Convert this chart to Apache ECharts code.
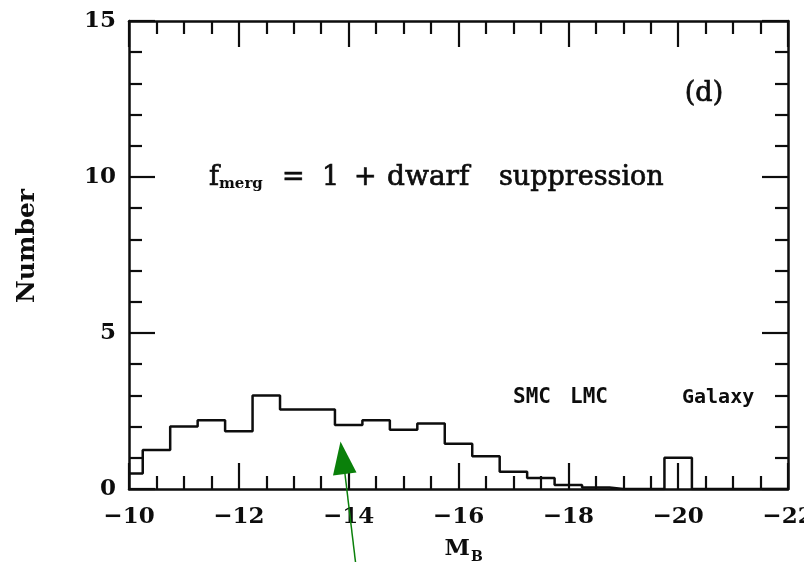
<!DOCTYPE html>
<html>
<head>
<meta charset="utf-8">
<script src="https://cdn.jsdelivr.net/npm/echarts@6/dist/echarts.min.js"></script>
<style>
  html, body { margin: 0; padding: 0; background: #fff; }
  #chart { width: 804px; height: 562px; }
</style>
</head>
<body>
<div id="chart"></div>
<script>
// Luminosity function histogram: bins of 0.5 mag, centred on these M_B values
const magnitudes = [-10, -10.5, -11, -11.5, -12, -12.5, -13, -13.5, -14, -14.5,
                    -15, -15.5, -16, -16.5, -17, -17.5, -18, -18.5, -19, -19.5,
                    -20, -20.5, -21, -21.5, -22];
const counts = [0.5, 1.25, 2.0, 2.2, 1.85, 3.0, 2.55, 2.55, 2.05, 2.2,
                1.9, 2.1, 1.45, 1.05, 0.55, 0.35, 0.13, 0.05, 0, 0,
                1.0, 0, 0, 0, 0];

// Axis ranges and tick spacing
const xRange = [-22, -10];
const xMajorStep = 2;
const yRange = [0, 15];
const yMajorStep = 5;

const ink = '#0d0d0d';
const serif = 'DejaVu Serif';

const chart = echarts.init(document.getElementById('chart'), null, { renderer: 'canvas' });

const minusSign = v => (v < 0 ? '\u2212' + Math.abs(v) : String(v));

function xAxisCfg(pos, showLabels) {
  return {
    type: 'value', position: pos, inverse: true,
    min: xRange[0], max: xRange[1], interval: xMajorStep,
    axisLine: { show: true, onZero: false, lineStyle: { color: ink, width: 2.5 } },
    axisTick: { show: true, inside: true, length: 26, lineStyle: { color: ink, width: 2.2 } },
    minorTick: { show: true, splitNumber: 4, length: 13, lineStyle: { color: ink, width: 2.2 } },
    splitLine: { show: false }, minorSplitLine: { show: false },
    axisLabel: {
      show: showLabels, margin: 17, color: ink,
      fontFamily: serif, fontWeight: 'bold', fontSize: 23,
      hideOverlap: false,
      formatter: minusSign
    }
  };
}

function yAxisCfg(pos, showLabels) {
  return {
    type: 'value', position: pos,
    min: yRange[0], max: yRange[1], interval: yMajorStep,
    axisLine: { show: true, onZero: false, lineStyle: { color: ink, width: 2.5 } },
    axisTick: { show: true, inside: true, length: 26, lineStyle: { color: ink, width: 2.2 } },
    minorTick: { show: true, splitNumber: 5, length: 13, lineStyle: { color: ink, width: 2.2 } },
    splitLine: { show: false }, minorSplitLine: { show: false },
    axisLabel: {
      show: showLabels, margin: 13, color: ink,
      fontFamily: serif, fontWeight: 'bold', fontSize: 23
    }
  };
}

// Text helper; a thin outline in the same ink gives the heavier print look
const txt = (x, y, text, font, align, vAlign, extra, weightStroke) => Object.assign({
  type: 'text', x: x, y: y,
  style: {
    text: text, fill: ink, font: font,
    align: align || 'left', verticalAlign: vAlign || 'middle',
    stroke: weightStroke ? ink : null, lineWidth: weightStroke || 0
  }
}, extra || {});

chart.setOption({
  animation: false,
  backgroundColor: '#fff',
  grid: { left: 129, right: 16, top: 21, bottom: 73, containLabel: false, outerBoundsMode: 'none' },
  xAxis: [xAxisCfg('bottom', true), xAxisCfg('top', false)],
  yAxis: [yAxisCfg('left', true), yAxisCfg('right', false)],
  series: [{
    type: 'line',
    step: 'middle',
    xAxisIndex: 0, yAxisIndex: 0,
    data: magnitudes.map((m, i) => [m, counts[i]]),
    symbol: 'none',
    lineStyle: { color: ink, width: 2.5 },
    clip: true,
    z: 3
  }],
  graphic: [
    // y axis title
    txt(27, 246, 'Number', 'bold 25px "DejaVu Serif"', 'center', 'middle', { rotation: Math.PI / 2 }),
    // x axis title M_B
    txt(470, 549, 'M', 'bold 23px "DejaVu Serif"', 'right', 'middle'),
    txt(471, 557, 'B', 'bold 14px "DejaVu Serif"', 'left', 'middle'),
    // panel tag
    txt(704, 94, '(d)', '27px "DejaVu Serif"', 'center', 'middle', null, 0.7),
    // model description
    txt(209, 178, 'f', '27px "DejaVu Serif"', 'left', 'middle', null, 0.7),
    txt(219, 184, 'merg', 'bold 15px "DejaVu Serif"', 'left', 'middle'),
    txt(282, 178, '=', '27px "DejaVu Serif"', 'left', 'middle', null, 0.7),
    txt(322, 178, '1', '27px "DejaVu Serif"', 'left', 'middle', null, 0.7),
    txt(354, 178, '+', '27px "DejaVu Serif"', 'left', 'middle', null, 0.7),
    txt(387, 178, 'dwarf', '28px "DejaVu Serif"', 'left', 'middle', null, 0.7),
    txt(499, 178, 'suppression', '27px "DejaVu Serif"', 'left', 'middle', null, 0.7),
    // reference galaxies
    txt(513, 398, 'SMC', 'bold 21px "DejaVu Sans Mono"', 'left', 'middle'),
    txt(570, 398, 'LMC', 'bold 21px "DejaVu Sans Mono"', 'left', 'middle'),
    txt(682, 398, 'Galaxy', 'bold 20px "DejaVu Sans Mono"', 'left', 'middle'),
    // green pointer arrow
    {
      type: 'line', z: 10,
      shape: { x1: 355.5, y1: 562, x2: 344.5, y2: 470 },
      style: { stroke: '#0a800a', lineWidth: 1.5 }
    },
    {
      type: 'polygon', z: 10,
      shape: { points: [[340.5, 441.5], [333, 475.5], [356.5, 472.5]] },
      style: { fill: '#0a800a' }
    }
  ]
});
</script>
</body>
</html>
